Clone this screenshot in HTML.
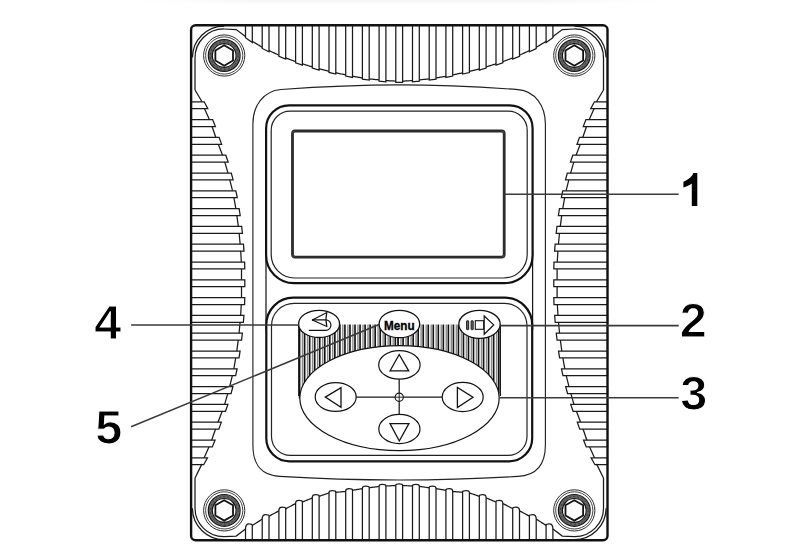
<!DOCTYPE html>
<html><head><meta charset="utf-8"><style>
html,body{margin:0;padding:0;background:#fff;}
body{width:790px;height:560px;overflow:hidden;position:relative;}
svg{position:absolute;left:0;top:0;}
text{font-family:"Liberation Sans",sans-serif;font-weight:bold;}
</style></head><body>
<svg width="790" height="560" viewBox="0 0 790 560">
<defs>
<linearGradient id="tg" x1="0" y1="0" x2="0" y2="1"><stop offset="0" stop-color="#ececec"/><stop offset="1" stop-color="#fff"/></linearGradient>
<linearGradient id="hg" x1="0" y1="0" x2="1" y2="0"><stop offset="0" stop-color="#f4f4f4" stop-opacity="0"/><stop offset="0.25" stop-color="#f4f4f4" stop-opacity="1"/><stop offset="0.75" stop-color="#f4f4f4" stop-opacity="1"/><stop offset="1" stop-color="#f4f4f4" stop-opacity="0"/></linearGradient>
<linearGradient id="vg" x1="0" y1="0" x2="0" y2="1"><stop offset="0" stop-color="#fff"/><stop offset="1" stop-color="#000"/></linearGradient>
<mask id="vm" maskUnits="userSpaceOnUse" x="0" y="0" width="790" height="6"><rect x="0" y="0" width="790" height="5" fill="url(#vg)"/></mask>
<radialGradient id="tgr" cx="0.5" cy="0" r="0.5"><stop offset="0" stop-color="#fff" stop-opacity="0"/><stop offset="1" stop-color="#fff" stop-opacity="1"/></radialGradient>
</defs>
<rect x="0" y="0" width="790" height="560" fill="#fff"/>
<rect x="140" y="0" width="520" height="5" fill="url(#hg)" mask="url(#vm)"/>
<polyline fill="none" stroke="#1a1a1a" stroke-width="1.25" points="245.50,36.48 246.50,37.19 247.50,37.91 248.50,38.62 249.50,39.34 250.50,40.05 251.50,40.76 252.50,41.45 253.50,42.05 254.50,42.65 255.50,43.25 256.50,43.85 257.50,44.45 258.50,45.05 259.50,45.65 260.50,46.25 261.50,46.85 262.50,47.42 263.50,47.91 264.50,48.39 265.50,48.88 266.50,49.36 267.50,49.85 268.50,50.34 269.50,50.81 270.50,51.27 271.50,51.73 272.50,52.20 273.50,52.66 274.50,53.11 275.50,53.58 276.50,54.03 277.50,54.50 278.50,54.95 279.50,55.40 280.50,55.80 281.50,56.20 282.50,56.60 283.50,57.00 284.50,57.40 285.50,57.80 286.50,58.19 287.50,58.57 288.50,58.95 289.50,59.33 290.50,59.71 291.50,60.08 292.50,60.46 293.50,60.84 294.50,61.22 295.50,61.58 296.50,61.91 297.50,62.23 298.50,62.56 299.50,62.88 300.50,63.21 301.50,63.53 302.50,63.86 303.50,64.18 304.50,64.49 305.50,64.80 306.50,65.11 307.50,65.42 308.50,65.73 309.50,66.04 310.50,66.36 311.50,66.67 312.50,66.97 313.50,67.26 314.50,67.54 315.50,67.83 316.50,68.11 317.50,68.40 318.50,68.69 319.50,68.96 320.50,69.21 321.50,69.45 322.50,69.69 323.50,69.94 324.50,70.18 325.50,70.43 326.50,70.67 327.50,70.92 328.50,71.16 329.50,71.38 330.50,71.61 331.50,71.83 332.50,72.06 333.50,72.28 334.50,72.51 335.50,72.73 336.50,72.95 337.50,73.16 338.50,73.38 339.50,73.59 340.50,73.80 341.50,74.01 342.50,74.22 343.50,74.43 344.50,74.64 345.50,74.85 346.50,75.05 347.50,75.25 348.50,75.45 349.50,75.65 350.50,75.85 351.50,76.05 352.50,76.25 353.50,76.44 354.50,76.61 355.50,76.78 356.50,76.94 357.50,77.11 358.50,77.28 359.50,77.44 360.50,77.61 361.50,77.78 362.50,77.94 363.50,78.08 364.50,78.22 365.50,78.36 366.50,78.51 367.50,78.65 368.50,78.79 369.50,78.92 370.50,79.03 371.50,79.12 372.50,79.23 373.50,79.33 374.50,79.42 375.50,79.53 376.50,79.62 377.50,79.73 378.50,79.83 379.50,79.92 380.50,80.03 381.50,80.12 382.50,80.22 383.50,80.33 384.50,80.42 385.50,80.52 386.50,80.61 387.50,80.67 388.50,80.72 389.50,80.77 390.50,80.83 391.50,80.88 392.50,80.94 393.50,80.99 394.50,81.04 395.50,81.10 396.50,81.15 397.50,81.21 398.50,81.26 399.50,81.29 400.50,81.23 401.50,81.18 402.50,81.12 403.50,81.07 404.50,81.02 405.50,80.96 406.50,80.91 407.50,80.86 408.50,80.80 409.50,80.75 410.50,80.69 411.50,80.64 412.50,80.58 413.50,80.47 414.50,80.38 415.50,80.28 416.50,80.17 417.50,80.08 418.50,79.98 419.50,79.88 420.50,79.78 421.50,79.67 422.50,79.58 423.50,79.48 424.50,79.38 425.50,79.28 426.50,79.17 427.50,79.08 428.50,78.98 429.50,78.86 430.50,78.72 431.50,78.58 432.50,78.44 433.50,78.29 434.50,78.15 435.50,78.01 436.50,77.86 437.50,77.69 438.50,77.53 439.50,77.36 440.50,77.19 441.50,77.03 442.50,76.86 443.50,76.69 444.50,76.53 445.50,76.35 446.50,76.15 447.50,75.95 448.50,75.75 449.50,75.55 450.50,75.35 451.50,75.15 452.50,74.95 453.50,74.75 454.50,74.54 455.50,74.33 456.50,74.11 457.50,73.90 458.50,73.69 459.50,73.48 460.50,73.27 461.50,73.06 462.50,72.84 463.50,72.62 464.50,72.39 465.50,72.17 466.50,71.94 467.50,71.72 468.50,71.49 469.50,71.27 470.50,71.04 471.50,70.79 472.50,70.55 473.50,70.31 474.50,70.06 475.50,69.82 476.50,69.57 477.50,69.33 478.50,69.08 479.50,68.83 480.50,68.54 481.50,68.26 482.50,67.97 483.50,67.69 484.50,67.40 485.50,67.11 486.50,66.82 487.50,66.51 488.50,66.20 489.50,65.89 490.50,65.58 491.50,65.27 492.50,64.96 493.50,64.64 494.50,64.33 495.50,64.02 496.50,63.69 497.50,63.37 498.50,63.04 499.50,62.72 500.50,62.39 501.50,62.07 502.50,61.74 503.50,61.41 504.50,61.03 505.50,60.65 506.50,60.27 507.50,59.89 508.50,59.52 509.50,59.14 510.50,58.76 511.50,58.38 512.50,58.00 513.50,57.60 514.50,57.20 515.50,56.80 516.50,56.40 517.50,56.00 518.50,55.60 519.50,55.19 520.50,54.73 521.50,54.27 522.50,53.80 523.50,53.34 524.50,52.89 525.50,52.42 526.50,51.97 527.50,51.50 528.50,51.05 529.50,50.58 530.50,50.09 531.50,49.61 532.50,49.12 533.50,48.64 534.50,48.15 535.50,47.66 536.50,47.15 537.50,46.55 538.50,45.95 539.50,45.35 540.50,44.75 541.50,44.15 542.50,43.55 543.50,42.95 544.50,42.35 545.50,41.75 546.50,41.12 547.50,40.41 548.50,39.69 549.50,38.98 550.50,38.26 551.50,37.55 552.50,36.84"/>
<polygon fill="#fff" stroke="#1a1a1a" stroke-width="1.25" points="245.50,25.3 245.50,37.68 252.30,42.53 252.30,25.3"/>
<polygon fill="#fff" stroke="#1a1a1a" stroke-width="1.25" points="262.20,25.3 262.20,48.47 269.00,51.78 269.00,25.3"/>
<polygon fill="#fff" stroke="#1a1a1a" stroke-width="1.25" points="278.90,25.3 278.90,56.34 285.70,59.08 285.70,25.3"/>
<polygon fill="#fff" stroke="#1a1a1a" stroke-width="1.25" points="295.60,25.3 295.60,62.81 302.40,65.02 302.40,25.3"/>
<polygon fill="#fff" stroke="#1a1a1a" stroke-width="1.25" points="312.30,25.3 312.30,68.11 319.10,70.06 319.10,25.3"/>
<polygon fill="#fff" stroke="#1a1a1a" stroke-width="1.25" points="329.00,25.3 329.00,72.47 335.80,74.00 335.80,25.3"/>
<polygon fill="#fff" stroke="#1a1a1a" stroke-width="1.25" points="345.70,25.3 345.70,76.09 352.50,77.45 352.50,25.3"/>
<polygon fill="#fff" stroke="#1a1a1a" stroke-width="1.25" points="362.40,25.3 362.40,79.12 369.20,80.09 369.20,25.3"/>
<polygon fill="#fff" stroke="#1a1a1a" stroke-width="1.25" points="379.10,25.3 379.10,81.09 385.90,81.77 385.90,25.3"/>
<polygon fill="#fff" stroke="#1a1a1a" stroke-width="1.25" points="395.80,25.3 395.80,82.31 402.60,82.32 402.60,25.3"/>
<polygon fill="#fff" stroke="#1a1a1a" stroke-width="1.25" points="412.50,25.3 412.50,81.78 419.30,81.09 419.30,25.3"/>
<polygon fill="#fff" stroke="#1a1a1a" stroke-width="1.25" points="429.20,25.3 429.20,80.11 436.00,79.14 436.00,25.3"/>
<polygon fill="#fff" stroke="#1a1a1a" stroke-width="1.25" points="445.90,25.3 445.90,77.47 452.70,76.11 452.70,25.3"/>
<polygon fill="#fff" stroke="#1a1a1a" stroke-width="1.25" points="462.60,25.3 462.60,74.02 469.40,72.49 469.40,25.3"/>
<polygon fill="#fff" stroke="#1a1a1a" stroke-width="1.25" points="479.30,25.3 479.30,70.09 486.10,68.14 486.10,25.3"/>
<polygon fill="#fff" stroke="#1a1a1a" stroke-width="1.25" points="496.00,25.3 496.00,65.06 502.80,62.85 502.80,25.3"/>
<polygon fill="#fff" stroke="#1a1a1a" stroke-width="1.25" points="512.70,25.3 512.70,59.12 519.50,56.39 519.50,25.3"/>
<polygon fill="#fff" stroke="#1a1a1a" stroke-width="1.25" points="529.40,25.3 529.40,51.83 536.20,48.52 536.20,25.3"/>
<polygon fill="#fff" stroke="#1a1a1a" stroke-width="1.25" points="546.10,25.3 546.10,42.59 552.90,37.75 552.90,25.3"/>
<polyline fill="none" stroke="#1a1a1a" stroke-width="1.25" points="245.50,529.55 246.50,528.95 247.50,528.35 248.50,527.75 249.50,527.15 250.50,526.55 251.50,525.95 252.50,525.34 253.50,524.70 254.50,524.06 255.50,523.42 256.50,522.78 257.50,522.14 258.50,521.50 259.50,520.86 260.50,520.22 261.50,519.58 262.50,519.00 263.50,518.58 264.50,518.16 265.50,517.75 266.50,517.33 267.50,516.91 268.50,516.47 269.50,515.93 270.50,515.39 271.50,514.86 272.50,514.32 273.50,513.78 274.50,513.25 275.50,512.71 276.50,512.17 277.50,511.64 278.50,511.10 279.50,510.63 280.50,510.35 281.50,510.06 282.50,509.78 283.50,509.50 284.50,509.21 285.50,508.87 286.50,508.34 287.50,507.81 288.50,507.28 289.50,506.75 290.50,506.22 291.50,505.69 292.50,505.16 293.50,504.63 294.50,504.10 295.50,503.64 296.50,503.41 297.50,503.19 298.50,502.96 299.50,502.73 300.50,502.50 301.50,502.27 302.50,502.00 303.50,501.59 304.50,501.18 305.50,500.77 306.50,500.36 307.50,499.95 308.50,499.54 309.50,499.13 310.50,498.72 311.50,498.31 312.50,497.94 313.50,497.70 314.50,497.45 315.50,497.21 316.50,496.97 317.50,496.72 318.50,496.48 319.50,496.21 320.50,495.87 321.50,495.53 322.50,495.19 323.50,494.85 324.50,494.51 325.50,494.17 326.50,493.83 327.50,493.49 328.50,493.15 329.50,492.88 330.50,492.79 331.50,492.70 332.50,492.62 333.50,492.53 334.50,492.44 335.50,492.35 336.50,492.27 337.50,492.18 338.50,492.09 339.50,492.00 340.50,491.92 341.50,491.83 342.50,491.74 343.50,491.65 344.50,491.57 345.50,491.46 346.50,491.29 347.50,491.13 348.50,490.96 349.50,490.80 350.50,490.64 351.50,490.47 352.50,490.31 353.50,490.14 354.50,489.98 355.50,489.81 356.50,489.65 357.50,489.48 358.50,489.32 359.50,489.15 360.50,488.99 361.50,488.82 362.50,488.67 363.50,488.53 364.50,488.40 365.50,488.26 366.50,488.12 367.50,487.99 368.50,487.85 369.50,487.72 370.50,487.58 371.50,487.45 372.50,487.31 373.50,487.18 374.50,487.04 375.50,486.91 376.50,486.77 377.50,486.64 378.50,486.50 379.50,486.39 380.50,486.33 381.50,486.28 382.50,486.22 383.50,486.17 384.50,486.11 385.50,486.06 386.50,486.00 387.50,485.95 388.50,485.89 389.50,485.84 390.50,485.78 391.50,485.73 392.50,485.67 393.50,485.62 394.50,485.56 395.50,485.51 396.50,485.45 397.50,485.40 398.50,485.34 399.50,485.31 400.50,485.37 401.50,485.42 402.50,485.48 403.50,485.53 404.50,485.59 405.50,485.64 406.50,485.70 407.50,485.75 408.50,485.81 409.50,485.86 410.50,485.92 411.50,485.97 412.50,486.03 413.50,486.08 414.50,486.14 415.50,486.19 416.50,486.25 417.50,486.30 418.50,486.36 419.50,486.43 420.50,486.57 421.50,486.70 422.50,486.84 423.50,486.97 424.50,487.11 425.50,487.25 426.50,487.38 427.50,487.52 428.50,487.65 429.50,487.79 430.50,487.92 431.50,488.06 432.50,488.19 433.50,488.33 434.50,488.46 435.50,488.60 436.50,488.74 437.50,488.91 438.50,489.07 439.50,489.24 440.50,489.40 441.50,489.56 442.50,489.73 443.50,489.89 444.50,490.06 445.50,490.22 446.50,490.39 447.50,490.55 448.50,490.72 449.50,490.88 450.50,491.05 451.50,491.21 452.50,491.38 453.50,491.52 454.50,491.61 455.50,491.70 456.50,491.78 457.50,491.87 458.50,491.96 459.50,492.05 460.50,492.13 461.50,492.22 462.50,492.31 463.50,492.40 464.50,492.48 465.50,492.57 466.50,492.66 467.50,492.75 468.50,492.83 469.50,492.98 470.50,493.32 471.50,493.66 472.50,494.00 473.50,494.34 474.50,494.68 475.50,495.02 476.50,495.36 477.50,495.70 478.50,496.04 479.50,496.36 480.50,496.60 481.50,496.85 482.50,497.09 483.50,497.33 484.50,497.57 485.50,497.82 486.50,498.10 487.50,498.51 488.50,498.92 489.50,499.33 490.50,499.74 491.50,500.15 492.50,500.56 493.50,500.97 494.50,501.38 495.50,501.79 496.50,502.16 497.50,502.39 498.50,502.61 499.50,502.84 500.50,503.07 501.50,503.30 502.50,503.53 503.50,503.83 504.50,504.36 505.50,504.89 506.50,505.42 507.50,505.95 508.50,506.48 509.50,507.01 510.50,507.54 511.50,508.07 512.50,508.60 513.50,509.07 514.50,509.35 515.50,509.64 516.50,509.92 517.50,510.20 518.50,510.49 519.50,510.83 520.50,511.37 521.50,511.91 522.50,512.44 523.50,512.98 524.50,513.52 525.50,514.05 526.50,514.59 527.50,515.12 528.50,515.66 529.50,516.20 530.50,516.70 531.50,517.12 532.50,517.54 533.50,517.95 534.50,518.37 535.50,518.79 536.50,519.26 537.50,519.90 538.50,520.54 539.50,521.18 540.50,521.82 541.50,522.46 542.50,523.10 543.50,523.74 544.50,524.38 545.50,525.02 546.50,525.65 547.50,526.25 548.50,526.85 549.50,527.45 550.50,528.05 551.50,528.65 552.50,529.25"/>
<path fill="#fff" stroke="#1a1a1a" stroke-width="1.25" d="M245.50,540.3 L245.50,529.15 Q245.50,523.87 248.90,523.87 Q252.30,523.87 252.30,525.07 L252.30,540.3"/>
<path fill="#fff" stroke="#1a1a1a" stroke-width="1.25" d="M262.20,540.3 L262.20,518.73 Q262.20,514.60 265.60,514.60 Q269.00,514.60 269.00,515.80 L269.00,540.3"/>
<path fill="#fff" stroke="#1a1a1a" stroke-width="1.25" d="M278.90,540.3 L278.90,510.49 Q278.90,507.16 282.30,507.16 Q285.70,507.16 285.70,508.36 L285.70,540.3"/>
<path fill="#fff" stroke="#1a1a1a" stroke-width="1.25" d="M295.60,540.3 L295.60,503.22 Q295.60,500.44 299.00,500.44 Q302.40,500.44 302.40,501.64 L302.40,540.3"/>
<path fill="#fff" stroke="#1a1a1a" stroke-width="1.25" d="M312.30,540.3 L312.30,497.59 Q312.30,494.74 315.70,494.74 Q319.10,494.74 319.10,495.94 L319.10,540.3"/>
<path fill="#fff" stroke="#1a1a1a" stroke-width="1.25" d="M329.00,540.3 L329.00,492.58 Q329.00,490.73 332.40,490.73 Q335.80,490.73 335.80,491.93 L335.80,540.3"/>
<path fill="#fff" stroke="#1a1a1a" stroke-width="1.25" d="M345.70,540.3 L345.70,491.03 Q345.70,488.71 349.10,488.71 Q352.50,488.71 352.50,489.91 L352.50,540.3"/>
<path fill="#fff" stroke="#1a1a1a" stroke-width="1.25" d="M362.40,540.3 L362.40,488.28 Q362.40,486.16 365.80,486.16 Q369.20,486.16 369.20,487.36 L369.20,540.3"/>
<path fill="#fff" stroke="#1a1a1a" stroke-width="1.25" d="M379.10,540.3 L379.10,486.02 Q379.10,484.43 382.50,484.43 Q385.90,484.43 385.90,485.63 L385.90,540.3"/>
<path fill="#fff" stroke="#1a1a1a" stroke-width="1.25" d="M395.80,540.3 L395.80,485.09 Q395.80,483.88 399.20,483.88 Q402.60,483.88 402.60,485.08 L402.60,540.3"/>
<path fill="#fff" stroke="#1a1a1a" stroke-width="1.25" d="M412.50,540.3 L412.50,485.63 Q412.50,484.43 415.90,484.43 Q419.30,484.43 419.30,486.01 L419.30,540.3"/>
<path fill="#fff" stroke="#1a1a1a" stroke-width="1.25" d="M429.20,540.3 L429.20,487.35 Q429.20,486.15 432.60,486.15 Q436.00,486.15 436.00,488.27 L436.00,540.3"/>
<path fill="#fff" stroke="#1a1a1a" stroke-width="1.25" d="M445.90,540.3 L445.90,489.89 Q445.90,488.69 449.30,488.69 Q452.70,488.69 452.70,491.01 L452.70,540.3"/>
<path fill="#fff" stroke="#1a1a1a" stroke-width="1.25" d="M462.60,540.3 L462.60,491.92 Q462.60,490.72 466.00,490.72 Q469.40,490.72 469.40,492.55 L469.40,540.3"/>
<path fill="#fff" stroke="#1a1a1a" stroke-width="1.25" d="M479.30,540.3 L479.30,495.91 Q479.30,494.71 482.70,494.71 Q486.10,494.71 486.10,497.56 L486.10,540.3"/>
<path fill="#fff" stroke="#1a1a1a" stroke-width="1.25" d="M496.00,540.3 L496.00,501.60 Q496.00,500.40 499.40,500.40 Q502.80,500.40 502.80,503.20 L502.80,540.3"/>
<path fill="#fff" stroke="#1a1a1a" stroke-width="1.25" d="M512.70,540.3 L512.70,508.31 Q512.70,507.11 516.10,507.11 Q519.50,507.11 519.50,510.43 L519.50,540.3"/>
<path fill="#fff" stroke="#1a1a1a" stroke-width="1.25" d="M529.40,540.3 L529.40,515.74 Q529.40,514.54 532.80,514.54 Q536.20,514.54 536.20,518.68 L536.20,540.3"/>
<path fill="#fff" stroke="#1a1a1a" stroke-width="1.25" d="M546.10,540.3 L546.10,525.00 Q546.10,523.80 549.50,523.80 Q552.90,523.80 552.90,529.09 L552.90,540.3"/>
<polyline fill="none" stroke="#1a1a1a" stroke-width="1.25" points="200.89,101.80 201.52,102.80 202.14,103.80 202.77,104.80 203.22,105.80 203.67,106.80 204.11,107.80 204.56,108.80 205.00,109.80 205.44,110.80 205.89,111.80 206.33,112.80 206.78,113.80 207.22,114.80 207.67,115.80 208.11,116.80 208.56,117.80 209.00,118.80 209.44,119.80 209.89,120.80 210.33,121.80 210.78,122.80 211.13,123.80 211.47,124.80 211.82,125.80 212.16,126.80 212.50,127.80 212.85,128.80 213.19,129.80 213.54,130.80 213.88,131.80 214.23,132.80 214.57,133.80 214.92,134.80 215.26,135.80 215.60,136.80 215.95,137.80 216.29,138.80 216.64,139.80 216.98,140.80 217.36,141.80 217.75,142.80 218.13,143.80 218.51,144.80 218.90,145.80 219.28,146.80 219.66,147.80 220.05,148.80 220.43,149.80 220.81,150.80 221.20,151.80 221.58,152.80 221.96,153.80 222.35,154.80 222.73,155.80 223.11,156.80 223.50,157.80 223.88,158.80 224.17,159.80 224.46,160.80 224.75,161.80 225.04,162.80 225.33,163.80 225.62,164.80 225.90,165.80 226.19,166.80 226.48,167.80 226.77,168.80 227.06,169.80 227.34,170.80 227.63,171.80 227.92,172.80 228.21,173.80 228.50,174.80 228.79,175.80 229.04,176.80 229.29,177.80 229.54,178.80 229.79,179.80 230.04,180.80 230.29,181.80 230.54,182.80 230.79,183.80 231.04,184.80 231.29,185.80 231.54,186.80 231.79,187.80 232.04,188.80 232.29,189.80 232.54,190.80 232.79,191.80 233.04,192.80 233.29,193.80 233.46,194.80 233.64,195.80 233.81,196.80 233.98,197.80 234.15,198.80 234.32,199.80 234.50,200.80 234.67,201.80 234.84,202.80 235.01,203.80 235.19,204.80 235.36,205.80 235.53,206.80 235.70,207.80 235.87,208.80 236.05,209.80 236.22,210.80 236.39,211.80 236.53,212.80 236.66,213.80 236.79,214.80 236.93,215.80 237.06,216.80 237.19,217.80 237.33,218.80 237.46,219.80 237.59,220.80 237.73,221.80 237.86,222.80 237.99,223.80 238.13,224.80 238.26,225.80 238.39,226.80 238.53,227.80 238.66,228.80 238.79,229.80 238.89,230.80 238.98,231.80 239.08,232.80 239.17,233.80 239.27,234.80 239.36,235.80 239.46,236.80 239.55,237.80 239.65,238.80 239.74,239.80 239.83,240.80 239.93,241.80 240.02,242.80 240.12,243.80 240.21,244.80 240.31,245.80 240.40,246.80 240.50,247.80 240.56,248.80 240.61,249.80 240.67,250.80 240.73,251.80 240.79,252.80 240.85,253.80 240.91,254.80 240.97,255.80 241.03,256.80 241.09,257.80 241.14,258.80 241.20,259.80 241.26,260.80 241.32,261.80 241.38,262.80 241.44,263.80 241.50,264.80 241.50,265.80 241.50,266.80 241.50,267.80 241.50,268.80 241.50,269.80 241.50,270.80 241.50,271.80 241.50,272.80 241.50,273.80 241.50,274.80 241.50,275.80 241.50,276.80 241.50,277.80 241.50,278.80 241.50,279.80 241.50,280.80 241.50,281.80 241.50,282.80 241.50,283.80 241.50,284.80 241.50,285.80 241.50,286.80 241.50,287.80 241.50,288.80 241.50,289.80 241.50,290.80 241.50,291.80 241.50,292.80 241.50,293.80 241.50,294.80 241.50,295.80 241.50,296.80 241.50,297.80 241.50,298.80 241.50,299.80 241.50,300.80 241.44,301.80 241.39,302.80 241.33,303.80 241.27,304.80 241.21,305.80 241.15,306.80 241.09,307.80 241.03,308.80 240.97,309.80 240.91,310.80 240.86,311.80 240.80,312.80 240.74,313.80 240.68,314.80 240.62,315.80 240.56,316.80 240.50,317.80 240.41,318.80 240.32,319.80 240.22,320.80 240.13,321.80 240.03,322.80 239.94,323.80 239.84,324.80 239.75,325.80 239.65,326.80 239.56,327.80 239.47,328.80 239.37,329.80 239.28,330.80 239.18,331.80 239.09,332.80 238.99,333.80 238.90,334.80 238.80,335.80 238.67,336.80 238.54,337.80 238.41,338.80 238.27,339.80 238.14,340.80 238.01,341.80 237.87,342.80 237.74,343.80 237.61,344.80 237.47,345.80 237.34,346.80 237.21,347.80 237.07,348.80 236.94,349.80 236.81,350.80 236.67,351.80 236.54,352.80 236.41,353.80 236.24,354.80 236.06,355.80 235.89,356.80 235.72,357.80 235.55,358.80 235.38,359.80 235.20,360.80 235.03,361.80 234.86,362.80 234.69,363.80 234.51,364.80 234.34,365.80 234.17,366.80 234.00,367.80 233.83,368.80 233.65,369.80 233.48,370.80 233.31,371.80 233.06,372.80 232.81,373.80 232.56,374.80 232.31,375.80 232.06,376.80 231.81,377.80 231.56,378.80 231.31,379.80 231.06,380.80 230.81,381.80 230.56,382.80 230.31,383.80 230.06,384.80 229.81,385.80 229.56,386.80 229.31,387.80 229.06,388.80 228.81,389.80 228.53,390.80 228.24,391.80 227.95,392.80 227.66,393.80 227.37,394.80 227.09,395.80 226.80,396.80 226.51,397.80 226.22,398.80 225.93,399.80 225.64,400.80 225.36,401.80 225.07,402.80 224.78,403.80 224.49,404.80 224.20,405.80 223.91,406.80 223.54,407.80 223.15,408.80 222.77,409.80 222.39,410.80 222.00,411.80 221.62,412.80 221.24,413.80 220.85,414.80 220.47,415.80 220.09,416.80 219.70,417.80 219.32,418.80 218.94,419.80 218.55,420.80 218.17,421.80 217.79,422.80 217.40,423.80 217.02,424.80 216.67,425.80 216.33,426.80 215.98,427.80 215.64,428.80 215.29,429.80 214.95,430.80 214.61,431.80 214.26,432.80 213.92,433.80 213.57,434.80 213.23,435.80 212.88,436.80 212.54,437.80 212.19,438.80 211.85,439.80 211.51,440.80 211.16,441.80 210.82,442.80 210.38,443.80 209.93,444.80 209.49,445.80 209.04,446.80 208.60,447.80 208.16,448.80 207.71,449.80 207.27,450.80 206.82,451.80 206.38,452.80 205.93,453.80 205.49,454.80 205.04,455.80 204.60,456.80 204.16,457.80 203.71,458.80 203.27,459.80 202.82,460.80 202.21,461.80 201.58,462.80 200.96,463.80 200.33,464.80"/>
<polygon fill="#fff" stroke="#1a1a1a" stroke-width="1.25" points="191.10,101.80 204.19,101.80 207.81,108.70 191.10,108.70"/>
<polygon fill="#fff" stroke="#1a1a1a" stroke-width="1.25" points="191.10,119.60 212.66,119.60 215.36,126.50 191.10,126.50"/>
<polygon fill="#fff" stroke="#1a1a1a" stroke-width="1.25" points="191.10,137.40 219.11,137.40 221.62,144.30 191.10,144.30"/>
<polygon fill="#fff" stroke="#1a1a1a" stroke-width="1.25" points="191.10,155.20 225.80,155.20 228.14,162.10 191.10,162.10"/>
<polygon fill="#fff" stroke="#1a1a1a" stroke-width="1.25" points="191.10,173.00 231.28,173.00 233.11,179.90 191.10,179.90"/>
<polygon fill="#fff" stroke="#1a1a1a" stroke-width="1.25" points="191.10,190.80 235.84,190.80 237.26,197.70 191.10,197.70"/>
<polygon fill="#fff" stroke="#1a1a1a" stroke-width="1.25" points="191.10,208.60 239.14,208.60 240.19,215.50 191.10,215.50"/>
<polygon fill="#fff" stroke="#1a1a1a" stroke-width="1.25" points="191.10,226.40 241.64,226.40 242.43,233.30 191.10,233.30"/>
<polygon fill="#fff" stroke="#1a1a1a" stroke-width="1.25" points="191.10,244.20 243.46,244.20 243.99,251.10 191.10,251.10"/>
<polygon fill="#fff" stroke="#1a1a1a" stroke-width="1.25" points="191.10,262.00 244.63,262.00 244.80,268.90 191.10,268.90"/>
<polygon fill="#fff" stroke="#1a1a1a" stroke-width="1.25" points="191.10,279.80 244.80,279.80 244.80,286.70 191.10,286.70"/>
<polygon fill="#fff" stroke="#1a1a1a" stroke-width="1.25" points="191.10,297.60 244.80,297.60 244.59,304.50 191.10,304.50"/>
<polygon fill="#fff" stroke="#1a1a1a" stroke-width="1.25" points="191.10,315.40 243.94,315.40 243.38,322.30 191.10,322.30"/>
<polygon fill="#fff" stroke="#1a1a1a" stroke-width="1.25" points="191.10,333.20 242.35,333.20 241.53,340.10 191.10,340.10"/>
<polygon fill="#fff" stroke="#1a1a1a" stroke-width="1.25" points="191.10,351.00 240.08,351.00 239.00,357.90 191.10,357.90"/>
<polygon fill="#fff" stroke="#1a1a1a" stroke-width="1.25" points="191.10,368.80 237.13,368.80 235.64,375.70 191.10,375.70"/>
<polygon fill="#fff" stroke="#1a1a1a" stroke-width="1.25" points="191.10,386.60 232.91,386.60 231.05,393.50 191.10,393.50"/>
<polygon fill="#fff" stroke="#1a1a1a" stroke-width="1.25" points="191.10,404.40 227.91,404.40 225.49,411.30 191.10,411.30"/>
<polygon fill="#fff" stroke="#1a1a1a" stroke-width="1.25" points="191.10,422.20 221.32,422.20 218.84,429.10 191.10,429.10"/>
<polygon fill="#fff" stroke="#1a1a1a" stroke-width="1.25" points="191.10,440.00 215.08,440.00 212.30,446.90 191.10,446.90"/>
<polygon fill="#fff" stroke="#1a1a1a" stroke-width="1.25" points="191.10,457.80 207.46,457.80 203.69,464.70 191.10,464.70"/>
<polyline fill="none" stroke="#1a1a1a" stroke-width="1.25" points="597.71,101.80 597.08,102.80 596.46,103.80 595.83,104.80 595.38,105.80 594.93,106.80 594.49,107.80 594.04,108.80 593.60,109.80 593.16,110.80 592.71,111.80 592.27,112.80 591.82,113.80 591.38,114.80 590.93,115.80 590.49,116.80 590.04,117.80 589.60,118.80 589.16,119.80 588.71,120.80 588.27,121.80 587.82,122.80 587.47,123.80 587.13,124.80 586.78,125.80 586.44,126.80 586.10,127.80 585.75,128.80 585.41,129.80 585.06,130.80 584.72,131.80 584.37,132.80 584.03,133.80 583.68,134.80 583.34,135.80 583.00,136.80 582.65,137.80 582.31,138.80 581.96,139.80 581.62,140.80 581.24,141.80 580.85,142.80 580.47,143.80 580.09,144.80 579.70,145.80 579.32,146.80 578.94,147.80 578.55,148.80 578.17,149.80 577.79,150.80 577.40,151.80 577.02,152.80 576.64,153.80 576.25,154.80 575.87,155.80 575.49,156.80 575.10,157.80 574.72,158.80 574.43,159.80 574.14,160.80 573.85,161.80 573.56,162.80 573.27,163.80 572.99,164.80 572.70,165.80 572.41,166.80 572.12,167.80 571.83,168.80 571.54,169.80 571.26,170.80 570.97,171.80 570.68,172.80 570.39,173.80 570.10,174.80 569.81,175.80 569.56,176.80 569.31,177.80 569.06,178.80 568.81,179.80 568.56,180.80 568.31,181.80 568.06,182.80 567.81,183.80 567.56,184.80 567.31,185.80 567.06,186.80 566.81,187.80 566.56,188.80 566.31,189.80 566.06,190.80 565.81,191.80 565.56,192.80 565.31,193.80 565.14,194.80 564.96,195.80 564.79,196.80 564.62,197.80 564.45,198.80 564.28,199.80 564.10,200.80 563.93,201.80 563.76,202.80 563.59,203.80 563.41,204.80 563.24,205.80 563.07,206.80 562.90,207.80 562.73,208.80 562.55,209.80 562.38,210.80 562.21,211.80 562.07,212.80 561.94,213.80 561.81,214.80 561.67,215.80 561.54,216.80 561.41,217.80 561.27,218.80 561.14,219.80 561.01,220.80 560.87,221.80 560.74,222.80 560.61,223.80 560.47,224.80 560.34,225.80 560.21,226.80 560.07,227.80 559.94,228.80 559.81,229.80 559.71,230.80 559.62,231.80 559.52,232.80 559.43,233.80 559.33,234.80 559.24,235.80 559.14,236.80 559.05,237.80 558.95,238.80 558.86,239.80 558.77,240.80 558.67,241.80 558.58,242.80 558.48,243.80 558.39,244.80 558.29,245.80 558.20,246.80 558.10,247.80 558.04,248.80 557.99,249.80 557.93,250.80 557.87,251.80 557.81,252.80 557.75,253.80 557.69,254.80 557.63,255.80 557.57,256.80 557.51,257.80 557.46,258.80 557.40,259.80 557.34,260.80 557.28,261.80 557.22,262.80 557.16,263.80 557.10,264.80 557.10,265.80 557.10,266.80 557.10,267.80 557.10,268.80 557.10,269.80 557.10,270.80 557.10,271.80 557.10,272.80 557.10,273.80 557.10,274.80 557.10,275.80 557.10,276.80 557.10,277.80 557.10,278.80 557.10,279.80 557.10,280.80 557.10,281.80 557.10,282.80 557.10,283.80 557.10,284.80 557.10,285.80 557.10,286.80 557.10,287.80 557.10,288.80 557.10,289.80 557.10,290.80 557.10,291.80 557.10,292.80 557.10,293.80 557.10,294.80 557.10,295.80 557.10,296.80 557.10,297.80 557.10,298.80 557.10,299.80 557.10,300.80 557.16,301.80 557.21,302.80 557.27,303.80 557.33,304.80 557.39,305.80 557.45,306.80 557.51,307.80 557.57,308.80 557.63,309.80 557.69,310.80 557.74,311.80 557.80,312.80 557.86,313.80 557.92,314.80 557.98,315.80 558.04,316.80 558.10,317.80 558.19,318.80 558.28,319.80 558.38,320.80 558.47,321.80 558.57,322.80 558.66,323.80 558.76,324.80 558.85,325.80 558.95,326.80 559.04,327.80 559.13,328.80 559.23,329.80 559.32,330.80 559.42,331.80 559.51,332.80 559.61,333.80 559.70,334.80 559.80,335.80 559.93,336.80 560.06,337.80 560.19,338.80 560.33,339.80 560.46,340.80 560.59,341.80 560.73,342.80 560.86,343.80 560.99,344.80 561.13,345.80 561.26,346.80 561.39,347.80 561.53,348.80 561.66,349.80 561.79,350.80 561.93,351.80 562.06,352.80 562.19,353.80 562.36,354.80 562.54,355.80 562.71,356.80 562.88,357.80 563.05,358.80 563.22,359.80 563.40,360.80 563.57,361.80 563.74,362.80 563.91,363.80 564.09,364.80 564.26,365.80 564.43,366.80 564.60,367.80 564.77,368.80 564.95,369.80 565.12,370.80 565.29,371.80 565.54,372.80 565.79,373.80 566.04,374.80 566.29,375.80 566.54,376.80 566.79,377.80 567.04,378.80 567.29,379.80 567.54,380.80 567.79,381.80 568.04,382.80 568.29,383.80 568.54,384.80 568.79,385.80 569.04,386.80 569.29,387.80 569.54,388.80 569.79,389.80 570.07,390.80 570.36,391.80 570.65,392.80 570.94,393.80 571.23,394.80 571.51,395.80 571.80,396.80 572.09,397.80 572.38,398.80 572.67,399.80 572.96,400.80 573.24,401.80 573.53,402.80 573.82,403.80 574.11,404.80 574.40,405.80 574.69,406.80 575.06,407.80 575.45,408.80 575.83,409.80 576.21,410.80 576.60,411.80 576.98,412.80 577.36,413.80 577.75,414.80 578.13,415.80 578.51,416.80 578.90,417.80 579.28,418.80 579.66,419.80 580.05,420.80 580.43,421.80 580.81,422.80 581.20,423.80 581.58,424.80 581.93,425.80 582.27,426.80 582.62,427.80 582.96,428.80 583.30,429.80 583.65,430.80 583.99,431.80 584.34,432.80 584.68,433.80 585.03,434.80 585.37,435.80 585.72,436.80 586.06,437.80 586.40,438.80 586.75,439.80 587.09,440.80 587.44,441.80 587.78,442.80 588.22,443.80 588.67,444.80 589.11,445.80 589.56,446.80 590.00,447.80 590.44,448.80 590.89,449.80 591.33,450.80 591.78,451.80 592.22,452.80 592.67,453.80 593.11,454.80 593.56,455.80 594.00,456.80 594.44,457.80 594.89,458.80 595.33,459.80 595.78,460.80 596.39,461.80 597.02,462.80 597.64,463.80 598.27,464.80"/>
<polygon fill="#fff" stroke="#1a1a1a" stroke-width="1.25" points="607.50,101.80 594.41,101.80 590.79,108.70 607.50,108.70"/>
<polygon fill="#fff" stroke="#1a1a1a" stroke-width="1.25" points="607.50,119.60 585.94,119.60 583.24,126.50 607.50,126.50"/>
<polygon fill="#fff" stroke="#1a1a1a" stroke-width="1.25" points="607.50,137.40 579.49,137.40 576.98,144.30 607.50,144.30"/>
<polygon fill="#fff" stroke="#1a1a1a" stroke-width="1.25" points="607.50,155.20 572.80,155.20 570.46,162.10 607.50,162.10"/>
<polygon fill="#fff" stroke="#1a1a1a" stroke-width="1.25" points="607.50,173.00 567.32,173.00 565.49,179.90 607.50,179.90"/>
<polygon fill="#fff" stroke="#1a1a1a" stroke-width="1.25" points="607.50,190.80 562.76,190.80 561.34,197.70 607.50,197.70"/>
<polygon fill="#fff" stroke="#1a1a1a" stroke-width="1.25" points="607.50,208.60 559.46,208.60 558.41,215.50 607.50,215.50"/>
<polygon fill="#fff" stroke="#1a1a1a" stroke-width="1.25" points="607.50,226.40 556.96,226.40 556.17,233.30 607.50,233.30"/>
<polygon fill="#fff" stroke="#1a1a1a" stroke-width="1.25" points="607.50,244.20 555.14,244.20 554.61,251.10 607.50,251.10"/>
<polygon fill="#fff" stroke="#1a1a1a" stroke-width="1.25" points="607.50,262.00 553.97,262.00 553.80,268.90 607.50,268.90"/>
<polygon fill="#fff" stroke="#1a1a1a" stroke-width="1.25" points="607.50,279.80 553.80,279.80 553.80,286.70 607.50,286.70"/>
<polygon fill="#fff" stroke="#1a1a1a" stroke-width="1.25" points="607.50,297.60 553.80,297.60 554.01,304.50 607.50,304.50"/>
<polygon fill="#fff" stroke="#1a1a1a" stroke-width="1.25" points="607.50,315.40 554.66,315.40 555.22,322.30 607.50,322.30"/>
<polygon fill="#fff" stroke="#1a1a1a" stroke-width="1.25" points="607.50,333.20 556.25,333.20 557.07,340.10 607.50,340.10"/>
<polygon fill="#fff" stroke="#1a1a1a" stroke-width="1.25" points="607.50,351.00 558.52,351.00 559.60,357.90 607.50,357.90"/>
<polygon fill="#fff" stroke="#1a1a1a" stroke-width="1.25" points="607.50,368.80 561.47,368.80 562.96,375.70 607.50,375.70"/>
<polygon fill="#fff" stroke="#1a1a1a" stroke-width="1.25" points="607.50,386.60 565.69,386.60 567.55,393.50 607.50,393.50"/>
<polygon fill="#fff" stroke="#1a1a1a" stroke-width="1.25" points="607.50,404.40 570.69,404.40 573.11,411.30 607.50,411.30"/>
<polygon fill="#fff" stroke="#1a1a1a" stroke-width="1.25" points="607.50,422.20 577.28,422.20 579.76,429.10 607.50,429.10"/>
<polygon fill="#fff" stroke="#1a1a1a" stroke-width="1.25" points="607.50,440.00 583.52,440.00 586.30,446.90 607.50,446.90"/>
<polygon fill="#fff" stroke="#1a1a1a" stroke-width="1.25" points="607.50,457.80 591.14,457.80 594.91,464.70 607.50,464.70"/>
<path fill="none" stroke="#1a1a1a" stroke-width="1.25" d="M195.00,90.00 L195.00,58.50 A28.8,28.8 0 0 1 224.20,29.00 L236.20,29.60 L245.50,36.60"/>
<path fill="none" stroke="#1a1a1a" stroke-width="1.25" d="M195.00,90.00 L202.00,101.80"/>
<path fill="none" stroke="#1a1a1a" stroke-width="1.25" d="M192.40,57.50 A31.8,31.8 0 0 1 224.20,26.00"/>
<circle cx="224.20" cy="55.50" r="20.6" fill="#fff" stroke="#2a2a2a" stroke-width="1.0"/>
<circle cx="224.20" cy="55.50" r="18.6" fill="none" stroke="#2a2a2a" stroke-width="0.9"/>
<circle cx="224.20" cy="55.50" r="13.9" fill="none" stroke="#666" stroke-width="3.4"/>
<circle cx="224.20" cy="55.50" r="13.9" fill="none" stroke="#333" stroke-width="0.9" stroke-dasharray="2 2"/>
<circle cx="224.20" cy="55.50" r="15.9" fill="none" stroke="#111" stroke-width="1.2"/>
<circle cx="224.20" cy="55.50" r="11.9" fill="#fff" stroke="#111" stroke-width="1.2"/>
<polygon points="224.20,45.30 233.03,50.40 233.03,60.60 224.20,65.70 215.37,60.60 215.37,50.40" fill="#fff" stroke="#111" stroke-width="1.8"/>
<path fill="none" stroke="#1a1a1a" stroke-width="1.25" d="M195.00,478.00 L195.00,507.20 A28.8,28.8 0 0 0 224.20,536.70 L236.20,536.10 L245.50,529.10"/>
<path fill="none" stroke="#1a1a1a" stroke-width="1.25" d="M195.00,478.00 L202.00,463.90"/>
<path fill="none" stroke="#1a1a1a" stroke-width="1.25" d="M192.40,508.20 A31.8,31.8 0 0 0 224.20,539.70"/>
<circle cx="224.20" cy="510.40" r="20.6" fill="#fff" stroke="#2a2a2a" stroke-width="1.0"/>
<circle cx="224.20" cy="510.40" r="18.6" fill="none" stroke="#2a2a2a" stroke-width="0.9"/>
<circle cx="224.20" cy="510.40" r="13.9" fill="none" stroke="#666" stroke-width="3.4"/>
<circle cx="224.20" cy="510.40" r="13.9" fill="none" stroke="#333" stroke-width="0.9" stroke-dasharray="2 2"/>
<circle cx="224.20" cy="510.40" r="15.9" fill="none" stroke="#111" stroke-width="1.2"/>
<circle cx="224.20" cy="510.40" r="11.9" fill="#fff" stroke="#111" stroke-width="1.2"/>
<polygon points="224.20,500.20 233.03,505.30 233.03,515.50 224.20,520.60 215.37,515.50 215.37,505.30" fill="#fff" stroke="#111" stroke-width="1.8"/>
<path fill="none" stroke="#1a1a1a" stroke-width="1.25" d="M603.50,90.00 L603.50,58.50 A28.8,28.8 0 0 0 574.30,29.00 L562.30,29.60 L553.00,36.60"/>
<path fill="none" stroke="#1a1a1a" stroke-width="1.25" d="M603.50,90.00 L596.50,101.80"/>
<path fill="none" stroke="#1a1a1a" stroke-width="1.25" d="M606.10,57.50 A31.8,31.8 0 0 0 574.30,26.00"/>
<circle cx="574.30" cy="55.50" r="20.6" fill="#fff" stroke="#2a2a2a" stroke-width="1.0"/>
<circle cx="574.30" cy="55.50" r="18.6" fill="none" stroke="#2a2a2a" stroke-width="0.9"/>
<circle cx="574.30" cy="55.50" r="13.9" fill="none" stroke="#666" stroke-width="3.4"/>
<circle cx="574.30" cy="55.50" r="13.9" fill="none" stroke="#333" stroke-width="0.9" stroke-dasharray="2 2"/>
<circle cx="574.30" cy="55.50" r="15.9" fill="none" stroke="#111" stroke-width="1.2"/>
<circle cx="574.30" cy="55.50" r="11.9" fill="#fff" stroke="#111" stroke-width="1.2"/>
<polygon points="574.30,45.30 583.13,50.40 583.13,60.60 574.30,65.70 565.47,60.60 565.47,50.40" fill="#fff" stroke="#111" stroke-width="1.8"/>
<path fill="none" stroke="#1a1a1a" stroke-width="1.25" d="M603.50,478.00 L603.50,507.20 A28.8,28.8 0 0 1 574.30,536.70 L562.30,536.10 L553.00,529.10"/>
<path fill="none" stroke="#1a1a1a" stroke-width="1.25" d="M603.50,478.00 L596.50,463.90"/>
<path fill="none" stroke="#1a1a1a" stroke-width="1.25" d="M606.10,508.20 A31.8,31.8 0 0 1 574.30,539.70"/>
<circle cx="574.30" cy="510.40" r="20.6" fill="#fff" stroke="#2a2a2a" stroke-width="1.0"/>
<circle cx="574.30" cy="510.40" r="18.6" fill="none" stroke="#2a2a2a" stroke-width="0.9"/>
<circle cx="574.30" cy="510.40" r="13.9" fill="none" stroke="#666" stroke-width="3.4"/>
<circle cx="574.30" cy="510.40" r="13.9" fill="none" stroke="#333" stroke-width="0.9" stroke-dasharray="2 2"/>
<circle cx="574.30" cy="510.40" r="15.9" fill="none" stroke="#111" stroke-width="1.2"/>
<circle cx="574.30" cy="510.40" r="11.9" fill="#fff" stroke="#111" stroke-width="1.2"/>
<polygon points="574.30,500.20 583.13,505.30 583.13,515.50 574.30,520.60 565.47,515.50 565.47,505.30" fill="#fff" stroke="#111" stroke-width="1.8"/>
<!-- outer box -->
<rect x="191.1" y="25.3" width="416.40" height="515.00" rx="4.5" fill="none" stroke="#111" stroke-width="2.4"/>

<!-- outer bezel -->
<path fill="none" stroke="#222" stroke-width="1.15" d="M252.9,124 C252.9,106 263,91 281,89.5 C330,86 370,84.9 399.1,84.9 C428,84.9 468,86 518,89.6 C535.2,91 545.4,106 545.4,124 L545.4,445 C545.4,466 536,475.5 518,476.4 C468,479.5 428,480 399.1,480 C370,480 330,479.5 280,476.4 C262,475.5 252.9,466 252.9,445 Z"/>
<!-- connector lines -->
<path d="M266,250 V330 M532.6,250 V330" stroke="#1a1a1a" stroke-width="1.25"/>
<!-- screen frame -->
<path d="M289.10,105.30 H509.60 C522.30,105.30 532.60,115.60 532.60,128.30 V255.20 C532.60,270.66 520.06,283.20 504.60,283.20 H294.10 C278.64,283.20 266.10,270.66 266.10,255.20 V128.30 C266.10,115.60 276.40,105.30 289.10,105.30 Z" fill="#fff" stroke="#111" stroke-width="2.2"/>
<path d="M290.20,111.20 H508.20 C518.69,111.20 527.20,119.71 527.20,130.20 V254.50 C527.20,267.48 516.68,278.00 503.70,278.00 H294.70 C281.72,278.00 271.20,267.48 271.20,254.50 V130.20 C271.20,119.71 279.71,111.20 290.20,111.20 Z" fill="none" stroke="#222" stroke-width="1.2"/>
<rect x="292.5" y="131" width="211.7" height="126.2" rx="2.6" fill="none" stroke="#2b2b2b" stroke-width="2.8"/>
<g fill="none" stroke="#555" stroke-width="0.7"><circle cx="293.6" cy="132.2" r="0.9"/><circle cx="503.1" cy="132.2" r="0.9"/><circle cx="293.6" cy="256" r="0.9"/><circle cx="503.1" cy="256" r="0.9"/></g>
<!-- keypad frame -->
<path d="M293.30,297.70 H505.20 C520.11,297.70 532.20,309.79 532.20,324.70 V438.30 C532.20,451.00 521.90,461.30 509.20,461.30 H289.30 C276.60,461.30 266.30,451.00 266.30,438.30 V324.70 C266.30,309.79 278.39,297.70 293.30,297.70 Z" fill="#fff" stroke="#111" stroke-width="2.2"/>
<path d="M294.00,303.30 H504.50 C516.93,303.30 527.00,313.37 527.00,325.80 V436.40 C527.00,446.89 518.49,455.40 508.00,455.40 H290.50 C280.01,455.40 271.50,446.89 271.50,436.40 V325.80 C271.50,313.37 281.57,303.30 294.00,303.30 Z" fill="none" stroke="#222" stroke-width="1.2"/>
<!-- hatch -->
<path d="M302.48,324.4V386.51 M307.52,324.4V378.34 M312.56,324.4V372.90 M317.60,324.4V368.66 M322.64,324.4V365.16 M327.68,324.4V362.19 M332.72,324.4V359.62 M337.76,324.4V357.38 M342.80,324.4V355.42 M347.84,324.4V353.70 M352.88,324.4V352.19 M357.92,324.4V350.88 M362.96,324.4V349.75 M368.00,324.4V348.79 M373.04,324.4V347.98 M378.08,324.4V347.33 M383.12,324.4V346.81 M388.16,324.4V346.44 M393.20,324.4V346.20 M398.24,324.4V346.10 M400.98,324.4V346.11 M406.01,324.4V346.21 M411.04,324.4V346.45 M416.07,324.4V346.83 M421.10,324.4V347.35 M426.13,324.4V348.01 M431.16,324.4V348.82 M436.19,324.4V349.78 M441.22,324.4V350.92 M446.25,324.4V352.23 M451.28,324.4V353.74 M456.31,324.4V355.46 M461.34,324.4V357.42 M466.37,324.4V359.66 M471.40,324.4V362.23 M476.43,324.4V365.21 M481.46,324.4V368.71 M486.49,324.4V372.95 M491.52,324.4V378.39 M496.55,324.4V386.58" stroke="#8a8a8a" stroke-width="1.4" fill="none"/><path d="M299.58,324.4V398.60 M304.62,324.4V382.47 M309.66,324.4V375.84 M314.70,324.4V370.99 M319.74,324.4V367.10 M324.78,324.4V363.84 M329.82,324.4V361.05 M334.86,324.4V358.63 M339.90,324.4V356.51 M344.94,324.4V354.66 M349.98,324.4V353.03 M355.02,324.4V351.61 M360.06,324.4V350.38 M365.10,324.4V349.32 M370.14,324.4V348.43 M375.18,324.4V347.69 M380.22,324.4V347.09 M385.26,324.4V346.64 M390.30,324.4V346.32 M395.34,324.4V346.15 M398.08,324.4V346.11 M403.11,324.4V346.13 M408.14,324.4V346.30 M413.17,324.4V346.60 M418.20,324.4V347.03 M423.23,324.4V347.61 M428.26,324.4V348.33 M433.29,324.4V349.21 M438.32,324.4V350.24 M443.35,324.4V351.45 M448.38,324.4V352.84 M453.41,324.4V354.44 M458.44,324.4V356.26 M463.47,324.4V358.33 M468.50,324.4V360.70 M473.53,324.4V363.43 M478.56,324.4V366.61 M483.59,324.4V370.39 M488.62,324.4V375.06 M493.65,324.4V381.33 M498.68,324.4V393.24" stroke="#111" stroke-width="1.65" fill="none"/>
<path d="M298.8,324.2 V396 M500.3,324.2 V396" stroke="#111" stroke-width="1.3"/>
<!-- big oval -->
<ellipse cx="399.5" cy="398.1" rx="99.7" ry="52.5" fill="#fff" stroke="#111" stroke-width="1.2"/>
<!-- cross lines -->
<path d="M356,397.2 H442.5 M399.2,379 V414.5" stroke="#1a1a1a" stroke-width="1.25"/>
<circle cx="399.2" cy="397.2" r="4.1" fill="#fff" stroke="#111" stroke-width="1.2"/>
<path d="M395.6,397.2 H402.8 M399.2,393.6 V400.8" stroke="#222" stroke-width="1"/>
<!-- top row buttons -->
<ellipse cx="319.1" cy="323.9" rx="20.5" ry="13.6" fill="#fff" stroke="#111" stroke-width="1.3"/>
<ellipse cx="399.4" cy="324" rx="20.3" ry="13.7" fill="#fff" stroke="#111" stroke-width="1.3"/>
<ellipse cx="479.5" cy="324.3" rx="20.7" ry="14" fill="#fff" stroke="#111" stroke-width="1.3"/>
<!-- back icon -->
<path d="M312.3,319.9 L326.9,312.4 Q325,319.5 326.9,326.6 Z" fill="none" stroke="#111" stroke-width="1.1" stroke-linejoin="round"/>
<path d="M312.3,319.9 H325.7 A5.25,5.25 0 0 1 325.7,330.4 H308.8" fill="none" stroke="#111" stroke-width="1.2"/>
<circle cx="313" cy="319.9" r="1" fill="#111"/>
<!-- menu text -->
<text x="399.4" y="329.8" font-size="13.4" text-anchor="middle" fill="#000" stroke="#000" stroke-width="0.35" textLength="30.6" lengthAdjust="spacingAndGlyphs">Menu</text>
<!-- forward icon -->
<rect x="466.6" y="320.8" width="2.1" height="8.8" rx="0.3" fill="#666" stroke="#111" stroke-width="0.9"/>
<rect x="471.1" y="320.8" width="2.1" height="8.8" rx="0.3" fill="#666" stroke="#111" stroke-width="0.9"/>
<rect x="475.3" y="320.7" width="8.4" height="8.6" fill="none" stroke="#111" stroke-width="1.1"/>
<path d="M484.2,316 L493.7,324.9 L484.2,334.2 Z" fill="#fff" stroke="#111" stroke-width="1.2" stroke-linejoin="miter"/>
<!-- direction buttons -->
<ellipse cx="399.4" cy="364.9" rx="20.7" ry="14.3" fill="#fff" stroke="#111" stroke-width="1.2"/>
<path d="M399.2,354.5 L390.1,370.8 L408.7,370.8 Z" fill="none" stroke="#111" stroke-width="1.3"/>
<ellipse cx="399.4" cy="429" rx="20.6" ry="14.6" fill="#fff" stroke="#111" stroke-width="1.2"/>
<path d="M390,423.6 L408.9,423.6 L399.3,441 Z" fill="none" stroke="#111" stroke-width="1.3"/>
<ellipse cx="335.7" cy="397" rx="20.5" ry="14.4" fill="#fff" stroke="#111" stroke-width="1.2"/>
<path d="M325.3,397.1 L341,387.7 L341,407.2 Z" fill="none" stroke="#111" stroke-width="1.3"/>
<ellipse cx="462.7" cy="397" rx="20.5" ry="14.6" fill="#fff" stroke="#111" stroke-width="1.2"/>
<path d="M457.4,387.5 L457.4,407.5 L473,397.2 Z" fill="none" stroke="#111" stroke-width="1.3"/>

<!-- leaders -->
<path d="M504.6,194.3 H678.7 M500.3,325.6 H678.7 M499.4,397.8 H678.7 M131.1,325 H298.7 M131.1,426.8 L379.6,324.2" stroke="#3a3a3a" stroke-width="1.55" fill="none"/>
<!-- labels -->
<path d="M697.3,173 V205.9 H691.8 V183.6 C689.5,185.5 686.6,186.7 683.4,187.4 V181.7 C685.6,181 688,179.6 690,177.8 C691.8,176.2 692.8,174.7 693.3,173 Z" fill="#000"/>
<text x="679.7" y="336.9" font-size="48.6" fill="#000" stroke="#fff" stroke-width="1.0">2</text>
<text x="680.2" y="410.2" font-size="48.6" fill="#000" stroke="#fff" stroke-width="1.0">3</text>
<text x="94.2" y="339.2" font-size="48.6" fill="#000" stroke="#fff" stroke-width="1.0">4</text>
<text x="95.2" y="443.8" font-size="48.6" fill="#000" stroke="#fff" stroke-width="1.0">5</text>
</svg>
</body></html>
